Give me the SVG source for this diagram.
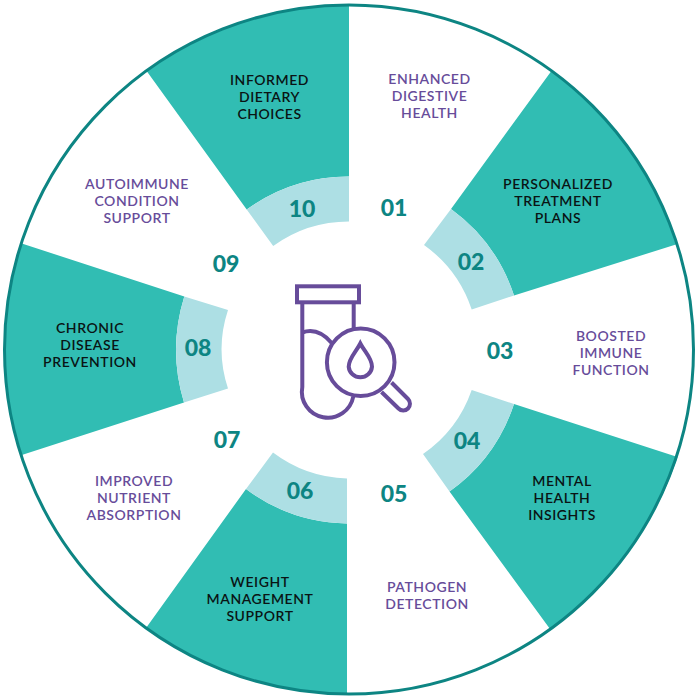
<svg xmlns="http://www.w3.org/2000/svg" width="700" height="700" viewBox="0 0 700 700">
<style>
.t{fill:#31bdb3}.l{fill:#addfe4}
text{font-family:"Lato","Noto Sans",sans-serif;text-anchor:middle}
.k{font-size:14px;font-weight:600;letter-spacing:.55px;fill:#0a1414}
.p{font-size:14px;font-weight:600;letter-spacing:.55px;fill:#674c9a}
.n{font-size:23px;font-weight:900;fill:#0d8583}
.i{fill:none;stroke:#674c9a;stroke-width:4}
</style>
<rect width="700" height="700" fill="#fff"/>
<g id="node-01"><text class="n" x="394" y="216">01</text><text class="p" x="429.5" y="84">ENHANCED</text><text class="p" x="429.5" y="101">DIGESTIVE</text><text class="p" x="429.5" y="118">HEALTH</text></g>
<g id="node-02"><path class="t" d="M451 209L551.2 71.2A344 344 0 0 1 677.5 244L514 295.5A174 174 0 0 0 451 209Z"/><path class="l" d="M424 245L451 209A174 174 0 0 1 514 295.5L471.7 309.6A129 129 0 0 0 424 245Z"/><text class="n" x="471" y="270">02</text><text class="k" x="558" y="189">PERSONALIZED</text><text class="k" x="558" y="206">TREATMENT</text><text class="k" x="558" y="223">PLANS</text></g>
<g id="node-03"><text class="n" x="500" y="359">03</text><text class="p" x="611" y="341">BOOSTED</text><text class="p" x="611" y="358">IMMUNE</text><text class="p" x="611" y="375">FUNCTION</text></g>
<g id="node-04"><path class="t" d="M514 404L677.5 457A344 344 0 0 1 550 629L449.5 491.5A174 174 0 0 0 514 404Z"/><path class="l" d="M471.7 390L514 404A174 174 0 0 1 449.5 491.5L423 454A129 129 0 0 0 471.7 390Z"/><text class="n" x="467" y="449">04</text><text class="k" x="562" y="486">MENTAL</text><text class="k" x="562" y="503">HEALTH</text><text class="k" x="562" y="520">INSIGHTS</text></g>
<g id="node-05"><text class="n" x="394" y="502">05</text><text class="p" x="427" y="592">PATHOGEN</text><text class="p" x="427" y="609">DETECTION</text></g>
<g id="node-06"><path class="t" d="M347 523.5L347 693.5A344 344 0 0 1 146 628L246 489A174 174 0 0 0 347 523.5Z"/><path class="l" d="M347 478.5L347 523.5A174 174 0 0 1 246 489L273 452.5A129 129 0 0 0 347 478.5Z"/><text class="n" x="300" y="499">06</text><text class="k" x="260" y="587">WEIGHT</text><text class="k" x="260" y="604">MANAGEMENT</text><text class="k" x="260" y="621">SUPPORT</text></g>
<g id="node-07"><text class="n" x="227" y="448">07</text><text class="p" x="134" y="486">IMPROVED</text><text class="p" x="134" y="503">NUTRIENT</text><text class="p" x="134" y="520">ABSORPTION</text></g>
<g id="node-08"><path class="t" d="M184 402.5L21.8 455A344 344 0 0 1 21.8 243.5L184.3 296.5A180 180 0 0 0 184 402.5Z"/><path class="l" d="M228 388.5L184 402.5A180 180 0 0 1 184.3 296.5L228 310A125 125 0 0 0 228 388.5Z"/><text class="n" x="198" y="356">08</text><text class="k" x="90" y="333">CHRONIC</text><text class="k" x="90" y="350">DISEASE</text><text class="k" x="90" y="367">PREVENTION</text></g>
<g id="node-09"><text class="n" x="226" y="272">09</text><text class="p" x="137" y="189">AUTOIMMUNE</text><text class="p" x="137" y="206">CONDITION</text><text class="p" x="137" y="223">SUPPORT</text></g>
<g id="node-10"><path class="t" d="M246.7 209.5L146.8 71.2A344 344 0 0 1 349 5.5L349 176.5A174 174 0 0 0 246.7 209.5Z"/><path class="l" d="M273.2 246L246.7 209.5A174 174 0 0 1 349 176.5L349 221.5A129 129 0 0 0 273.2 246Z"/><text class="n" x="302" y="217">10</text><text class="k" x="269.5" y="85">INFORMED</text><text class="k" x="269.5" y="102">DIETARY</text><text class="k" x="269.5" y="119">CHOICES</text></g>
<g id="connectors"><circle cx="349" cy="349.5" r="344.5" fill="none" stroke="#0d8583" stroke-width="3"/></g>
<g id="icon">
<rect class="i" x="297" y="286.3" width="62" height="16"/>
<path class="i" d="M353.7 302.3V329M302.3 302.3V387A25.7 25.7 0 0 0 353.3 396.5"/>
<path class="i" d="M302.3 332.5Q318 327 331.7 343"/>
<circle class="i" cx="360.7" cy="362.3" r="33.8"/>
<path class="i" d="M360.3 343.5C356 352 348.7 358 348.7 366.7A11.7 11.7 0 0 0 372 366.7C372 358 364.7 352 360.3 343.5Z"/>
<path class="i" d="M391.5 382.5L408 399A6.7 6.7 0 0 1 398.5 408.5L381.5 392"/>
</g>
</svg>
